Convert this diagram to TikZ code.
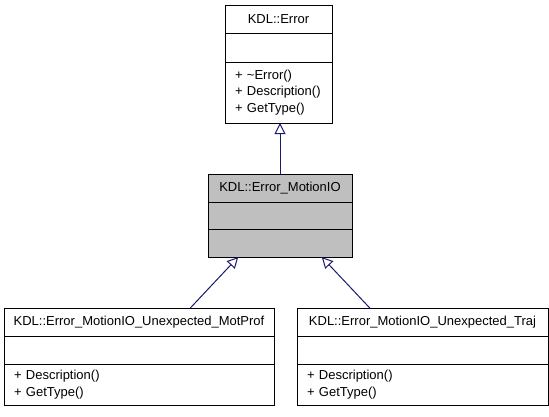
\documentclass[tikz,border=0pt]{standalone}
\usepackage{fontspec}
\setmainfont{Liberation Sans}
\usepackage{tikz}
\usepackage{xcolor}
\usetikzlibrary{arrows.meta,calc}
\definecolor{edgeblue}{HTML}{191970}
\definecolor{basegray}{HTML}{BFBFBF}

\begin{document}
\begin{tikzpicture}[x=1pt,y=-1pt,
        part/.style={draw=black,line width=1pt,fill=white,inner sep=0pt,outer sep=0pt,anchor=north west,font=\fontsize{13}{16.5}\selectfont},
        members/.style={part,align=left,inner xsep=10pt,text width=#1},
        inherit/.style={edgeblue,line width=1pt,-{Triangle[open,length=11pt,width=11pt]}}]
        \useasboundingbox (0,0) rectangle (549,416);
        \node[part,minimum width=107pt,minimum height=28pt] (errT) at (225,5) {KDL::Error};
        \node[part,minimum width=107pt,minimum height=29pt] (errA) at (errT.south west) {};
        \node[members=87pt,minimum height=61pt] (errM) at (errA.south west) {+ \textasciitilde Error()\\+ Description()\\+ GetType()};
        \node[part,fill=basegray,minimum width=144pt,minimum height=28pt] (motT) at (208,174) {KDL::Error\_MotionIO};
        \node[part,fill=basegray,minimum width=144pt,minimum height=27pt] (motA) at (motT.south west) {};
        \node[part,fill=basegray,minimum width=144pt,minimum height=28pt] (motM) at (motA.south west) {};
        \node[part,minimum width=270pt,minimum height=28pt] (profT) at (4,308) {KDL::Error\_MotionIO\_Unexpected\_MotProf};
        \node[part,minimum width=270pt,minimum height=28pt] (profA) at (profT.south west) {};
        \node[members=250pt,minimum height=41pt] (profM) at (profA.south west) {+ Description()\\+ GetType()};
        \node[part,minimum width=251pt,minimum height=28pt] (trajT) at (297,308) {KDL::Error\_MotionIO\_Unexpected\_Traj};
        \node[part,minimum width=251pt,minimum height=28pt] (trajA) at (trajT.south west) {};
        \node[members=231pt,minimum height=41pt] (trajM) at (trajA.south west) {+ Description()\\+ GetType()};
        \draw[inherit] (motT.north) -- (motT.north |- errM.south);
        \draw[inherit] ($(profT.north west)!0.69!(profT.north east)$) -- ($(motM.south west)!0.21!(motM.south east)$);
        \draw[inherit] ($(trajT.north west)!0.29!(trajT.north east)$) -- ($(motM.south west)!0.79!(motM.south east)$);
\end{tikzpicture}
\end{document}
